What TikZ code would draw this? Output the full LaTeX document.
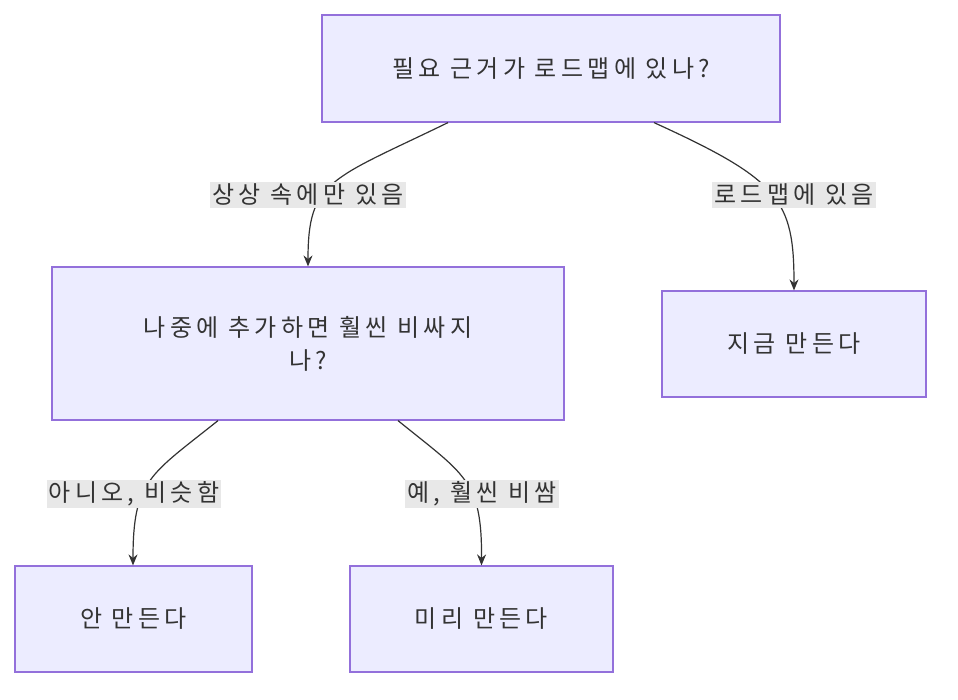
\documentclass[tikz,border=0pt]{standalone}
\usepackage{fontspec}
\setmainfont{Noto Sans CJK KR}[LetterSpace=18]
\usetikzlibrary{arrows.meta}
\definecolor{nfill}{HTML}{ECECFF}
\definecolor{nline}{HTML}{9370DB}
\definecolor{lbg}{HTML}{E8E8E8}
\definecolor{edge}{HTML}{333333}
\begin{document}
\begin{tikzpicture}[x=1pt,y=-1pt,
  box/.style={draw=nline,fill=nfill,line width=1.2pt,minimum width=#1,align=center,font=\fontsize{24}{33}\selectfont,text=edge},
  lbl/.style={fill=lbg,inner sep=2pt,font=\fontsize{24}{28}\selectfont,text=edge},
  conn/.style={draw=edge,line width=1.2pt,-{Stealth[length=11pt,width=9pt]}}]
\useasboundingbox (0,0) rectangle (958,700);
\node[box=458pt,minimum height=107pt] (q1) at (551,68.5) {필요 근거가 로드맵에 있나?};
\node[box=512pt,minimum height=153pt] (q2) at (308,343.5) {나중에 추가하면 훨씬 비싸지\\나?};
\node[box=264pt,minimum height=106pt] (now) at (794,344) {지금 만든다};
\node[box=237pt,minimum height=106pt] (no) at (133.5,619) {안 만든다};
\node[box=263pt,minimum height=106pt] (pre) at (481.5,619) {미리 만든다};
\draw[conn] ([xshift=-103pt]q1.south) .. controls (330,180) and (308,180) .. (q2.north);
\draw[conn] ([xshift=103pt]q1.south) .. controls (780,180) and (794,200) .. (now.north);
\draw[conn] ([xshift=-90pt]q2.south) .. controls (150,475) and (133,480) .. ([xshift=-0.5pt]no.north);
\draw[conn] ([xshift=90pt]q2.south) .. controls (465,475) and (482,480) .. (pre.north);
\node[lbl] (l1) at (308,195) {상상 속에만 있음};
\node[lbl] (l2) at (794,195) {로드맵에 있음};
\node[lbl] (l3) at (134,494) {아니오, 비슷함};
\node[lbl] (l4) at (482,494) {예, 훨씬 비쌈};
\end{tikzpicture}
\end{document}
